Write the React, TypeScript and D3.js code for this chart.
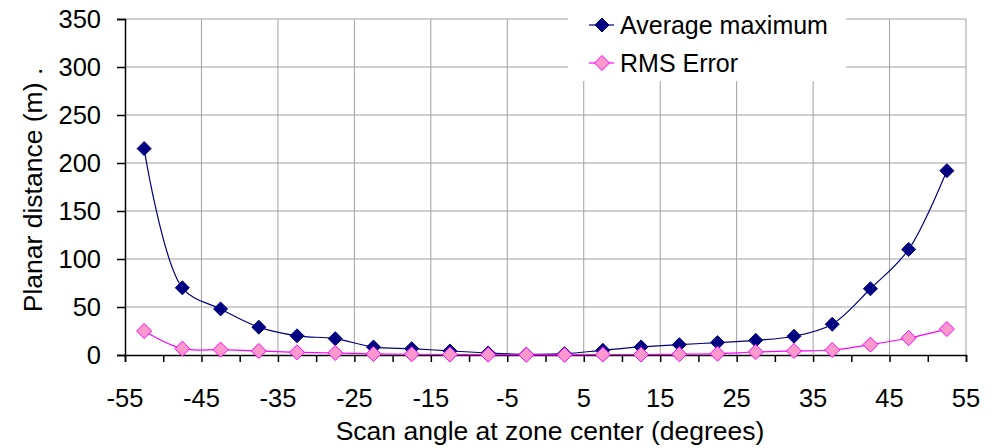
import { useRef, useEffect } from 'react';
import * as d3 from 'd3';

const angles = [-52.5, -47.5, -42.5, -37.5, -32.5, -27.5, -22.5, -17.5, -12.5, -7.5, -2.5, 2.5, 7.5, 12.5, 17.5, 22.5, 27.5, 32.5, 37.5, 42.5, 47.5, 52.5];
const avgMax = [215, 70, 48, 29, 20, 17, 8.3, 6.6, 4.2, 2.1, 0.8, 1.4, 4.9, 8.4, 10.8, 12.9, 15.3, 19.5, 32, 69, 110, 192];
const rmsError = [25, 6.6, 5.6, 4.2, 2.8, 2.1, 1.1, 0.8, 0.5, 0.3, 0.2, 0.2, 0.5, 0.5, 0.8, 1.4, 3.1, 4.2, 5.2, 10.8, 17.7, 27];
const xTicks = [-55, -45, -35, -25, -15, -5, 5, 15, 25, 35, 45, 55];
const xMinorTicks = [-50, -40, -30, -20, -10, 0, 10, 20, 30, 40, 50];
const yTicks = [0, 50, 100, 150, 200, 250, 300, 350];

const FONT = '"Liberation Sans", Arial, sans-serif';
const NAVY = '#000080';
const MAGENTA = '#ff00ff';
const PINK = '#ff99cc';

export default function App() {
  const svgRef = useRef<SVGSVGElement>(null);

  useEffect(() => {
    if (!svgRef.current) return;
    const svg = d3.select(svgRef.current);
    svg.selectAll('*').remove();

    const left = 125, right = 966, top = 19, bottom = 355;
    const x = d3.scaleLinear().domain([-55, 55]).range([left, right]);
    const y = d3.scaleLinear().domain([0, 350]).range([bottom, top]);

    // Grid
    svg.append('g').selectAll('line').data(yTicks.slice(1)).join('line')
      .attr('x1', left).attr('x2', right)
      .attr('y1', d => y(d)).attr('y2', d => y(d))
      .attr('stroke', '#a0a0a0').attr('stroke-width', 1);
    svg.append('g').selectAll('line').data(xTicks.slice(1)).join('line')
      .attr('x1', d => x(d)).attr('x2', d => x(d))
      .attr('y1', top).attr('y2', bottom)
      .attr('stroke', '#a0a0a0').attr('stroke-width', 1);

    // Axes
    const xAxis = svg.append('g').attr('transform', `translate(0,${bottom})`)
      .call(d3.axisBottom(x).tickValues([...xTicks, ...xMinorTicks]).tickSize(7).tickFormat(() => ''));
    xAxis.select('.domain').attr('stroke', '#000').attr('stroke-width', 1.5);
    xAxis.selectAll('.tick line').attr('stroke', '#000').attr('stroke-width', 1.5);

    const yAxis = svg.append('g').attr('transform', `translate(${left},0)`)
      .call(d3.axisLeft(y).tickValues(yTicks).tickSize(8).tickFormat(() => ''));
    yAxis.select('.domain').attr('stroke', '#000').attr('stroke-width', 1.5);
    yAxis.selectAll('.tick line').attr('stroke', '#000').attr('stroke-width', 1.5);

    // Tick labels
    svg.append('g').selectAll('text').data(xTicks).join('text')
      .attr('x', d => x(d)).attr('y', 407)
      .attr('text-anchor', 'middle').attr('font-family', FONT).attr('font-size', 25.5)
      .text(d => String(d));
    svg.append('g').selectAll('text').data(yTicks).join('text')
      .attr('x', 101).attr('y', d => y(d) + 9)
      .attr('text-anchor', 'end').attr('font-family', FONT).attr('font-size', 25.5)
      .text(d => String(d));

    // Axis titles
    svg.append('text').attr('x', 550).attr('y', 440)
      .attr('text-anchor', 'middle').attr('font-family', FONT).attr('font-size', 26.5)
      .text('Scan angle at zone center (degrees)');
    svg.append('text').attr('transform', `translate(42,190) rotate(-90)`)
      .attr('text-anchor', 'middle').attr('font-family', FONT).attr('font-size', 26.5)
      .text('Planar distance (m) .');

    const diamond = (r: number) => `M0,${-r}L${r},0L0,${r}L${-r},0Z`;
    const line = d3.line<number>()
      .x((_, i) => x(angles[i]))
      .y(d => y(d))
      .curve(d3.curveCatmullRom.alpha(0.5));

    const series = [
      { data: avgMax, stroke: NAVY, fill: NAVY, r: 7 },
      { data: rmsError, stroke: MAGENTA, fill: PINK, r: 7.5 },
    ];
    series.forEach(s => {
      svg.append('path').attr('d', line(s.data)).attr('fill', 'none')
        .attr('stroke', s.stroke).attr('stroke-width', 1.2);
    });
    series.forEach(s => {
      svg.append('g').selectAll('path').data(s.data).join('path')
        .attr('transform', (d, i) => `translate(${x(angles[i])},${y(d)})`)
        .attr('d', diamond(s.r))
        .attr('fill', s.fill).attr('stroke', s.stroke).attr('stroke-width', 1);
    });

    // Legend
    const lg = svg.append('g');
    lg.append('rect').attr('x', 568).attr('y', 0).attr('width', 278).attr('height', 81).attr('fill', '#fff');
    const labels = ['Average maximum', 'RMS Error'];
    series.forEach((s, i) => {
      const cy = 25 + i * 38;
      lg.append('line').attr('x1', 589).attr('x2', 614).attr('y1', cy).attr('y2', cy)
        .attr('stroke', s.stroke).attr('stroke-width', 1.2);
      lg.append('path').attr('transform', `translate(602,${cy})`).attr('d', diamond(s.r))
        .attr('fill', s.fill).attr('stroke', s.stroke);
      lg.append('text').attr('x', 620).attr('y', cy + 9)
        .attr('font-family', FONT).attr('font-size', 25).text(labels[i]);
    });
  }, []);

  return (
    <svg ref={svgRef} width={1005} height={448}
      style={{ position: 'absolute', left: 0, top: 0, background: '#fff' }} />
  );
}
